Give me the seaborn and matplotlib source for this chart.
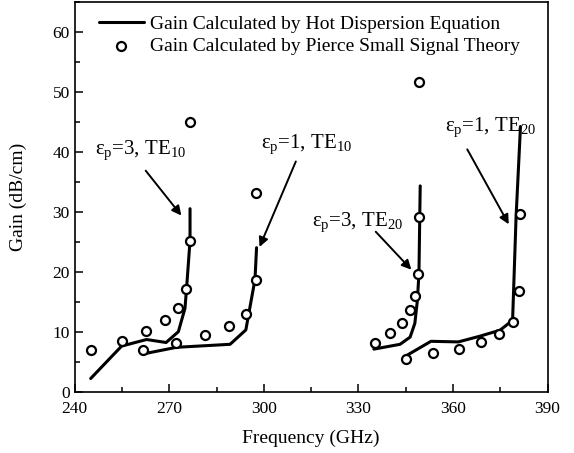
import matplotlib
matplotlib.use("Agg")
import numpy as np
import pandas as pd
import matplotlib.pyplot as plt
import seaborn as sns
from matplotlib.ticker import MultipleLocator

# eps_p = 3, TE10
e3_te10_line_f = [245.1, 254.9, 262.8, 269.0, 272.9, 275.0, 275.5, 276.6, 276.6]
e3_te10_line_g = [2.2, 7.6, 8.7, 8.2, 10.0, 13.9, 17.2, 25.2, 30.5]
e3_te10_pts_f = [245.2, 254.9, 262.6, 268.6, 272.7, 275.2, 276.6, 276.6]
e3_te10_pts_g = [7.0, 8.5, 10.1, 11.9, 14.0, 17.2, 25.2, 45.0]

# eps_p = 1, TE10
e1_te10_line_f = [261.8, 272.3, 289.3, 294.3, 297.2, 297.7]
e1_te10_line_g = [6.3, 7.4, 7.9, 10.3, 18.7, 24.0]
e1_te10_pts_f = [261.8, 272.3, 281.5, 289.0, 294.3, 297.4, 297.5]
e1_te10_pts_g = [6.9, 8.15, 9.4, 10.9, 13.0, 18.7, 33.1]

# eps_p = 3, TE20
e3_te20_line_f = [334.9, 343.2, 346.4, 347.9, 348.7, 349.2, 349.6]
e3_te20_line_g = [7.1, 7.9, 9.1, 11.4, 15.2, 19.7, 34.3]
e3_te20_pts_f = [335.3, 340.0, 343.7, 346.3, 348.1, 349.0, 349.3, 349.3]
e3_te20_pts_g = [8.15, 9.8, 11.5, 13.6, 16.0, 19.7, 29.2, 51.7]

# eps_p = 1, TE20
e1_te20_line_f = [345.5, 353.0, 361.7, 368.5, 374.9, 378.9, 380.0, 381.4]
e1_te20_line_g = [6.1, 8.4, 8.3, 9.25, 10.25, 11.9, 29.1, 44.2]
e1_te20_pts_f = [345.1, 353.7, 361.9, 368.9, 374.7, 378.9, 381.0, 381.2]
e1_te20_pts_g = [5.5, 6.4, 7.2, 8.3, 9.7, 11.6, 16.8, 29.7]

lines = [(e3_te10_line_f, e3_te10_line_g), (e1_te10_line_f, e1_te10_line_g),
         (e3_te20_line_f, e3_te20_line_g), (e1_te20_line_f, e1_te20_line_g)]
points = [(e3_te10_pts_f, e3_te10_pts_g), (e1_te10_pts_f, e1_te10_pts_g),
          (e3_te20_pts_f, e3_te20_pts_g), (e1_te20_pts_f, e1_te20_pts_g)]

sns.set_theme(style="ticks")
plt.rcParams['font.family'] = ['Liberation Serif', 'DejaVu Serif']
plt.rcParams['mathtext.fontset'] = 'custom'
plt.rcParams['mathtext.rm'] = 'Liberation Serif'
plt.rcParams['mathtext.it'] = 'Liberation Serif:italic'
plt.rcParams['text.color'] = 'black'
plt.rcParams['axes.labelcolor'] = 'black'

fig = plt.figure(figsize=(5.74, 4.53), dpi=100)
ax = fig.add_axes([0.130, 0.1353, 0.824, 0.8609])

# Hot dispersion curves
for i, (f, g) in enumerate(lines):
    df = pd.DataFrame({'freq': f, 'gain': g})
    sns.lineplot(data=df, x='freq', y='gain', ax=ax, sort=False, color='black',
                 linewidth=2.2, estimator=None,
                 label='Gain Calculated by Hot Dispersion Equation' if i == 0 else None)

# Pierce small signal points
for i, (f, g) in enumerate(points):
    df = pd.DataFrame({'freq': f, 'gain': g})
    sns.scatterplot(data=df, x='freq', y='gain', ax=ax, marker='o', s=42,
                    facecolor='white', edgecolor='black', linewidth=1.6, zorder=3,
                    label='Gain Calculated by Pierce Small Signal Theory' if i == 0 else None)

# Annotations
arrow_kw = dict(arrowstyle='-|>', color='black', lw=1.4, mutation_scale=14)
notes = [
    ('ε$_\\mathregular{p}$=3, TE$_\\mathregular{10}$', (261.0, 40.2), (262.0, 37.2), (274.4, 29.0)),
    ('ε$_\\mathregular{p}$=1, TE$_\\mathregular{10}$', (313.5, 41.3), (310.5, 38.8), (298.3, 23.7)),
    ('ε$_\\mathregular{p}$=3, TE$_\\mathregular{20}$', (329.6, 28.3), (334.9, 27.0), (347.4, 20.0)),
    ('ε$_\\mathregular{p}$=1, TE$_\\mathregular{20}$', (372.0, 44.0), (364.1, 40.8), (378.1, 27.5)),
]
for txt, tpos, tail, head in notes:
    ax.text(tpos[0], tpos[1], txt, fontsize=15, ha='center', va='center', color='black')
    ax.annotate('', xy=head, xytext=tail, arrowprops=arrow_kw)

ax.set_xlim(240, 390)
ax.set_ylim(0, 65)
ax.xaxis.set_major_locator(MultipleLocator(30))
ax.xaxis.set_minor_locator(MultipleLocator(15))
ax.yaxis.set_major_locator(MultipleLocator(10))
ax.yaxis.set_minor_locator(MultipleLocator(5))
ax.tick_params(which='both', direction='in', top=False, right=False, width=1.1,
               labelsize=12.5, colors='black')
ax.tick_params(which='major', length=6)
ax.tick_params(which='minor', length=3.5)
ax.tick_params(axis='x', which='major', pad=7)
for sp in ax.spines.values():
    sp.set_linewidth(1.2)
    sp.set_color('black')

ax.set_xlabel('Frequency (GHz)', fontsize=14, labelpad=9)
ax.set_ylabel('Gain (dB/cm)', fontsize=14, labelpad=18)

ax.legend(loc='upper left', bbox_to_anchor=(0.023, 1.0), frameon=False, fontsize=14,
          handlelength=2.3, handletextpad=0.3, borderaxespad=0.3, labelspacing=0.25)

fig.savefig('out.png', dpi=100)
